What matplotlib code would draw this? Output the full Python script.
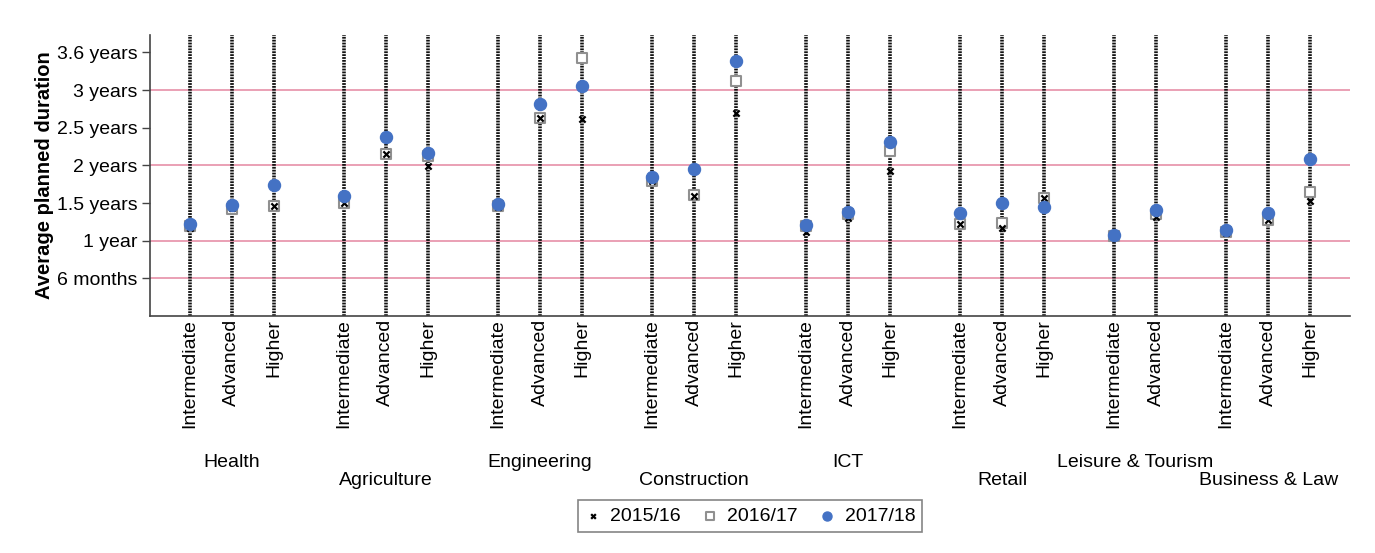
import matplotlib.pyplot as plt
from matplotlib.transforms import blended_transform_factory

plt.rcParams['font.family'] = ['Liberation Sans', 'DejaVu Sans']

groups = ["Health", "Agriculture", "Engineering", "Construction",
          "ICT", "Retail", "Leisure & Tourism", "Business & Law"]
levels = [
    ["Intermediate", "Advanced", "Higher"],
    ["Intermediate", "Advanced", "Higher"],
    ["Intermediate", "Advanced", "Higher"],
    ["Intermediate", "Advanced", "Higher"],
    ["Intermediate", "Advanced", "Higher"],
    ["Intermediate", "Advanced", "Higher"],
    ["Intermediate", "Advanced"],
    ["Intermediate", "Advanced", "Higher"],
]

# average planned duration in years, one value per level, in order
y2015 = [1.17, 1.43, 1.46, 1.50, 2.15, 1.99, 1.45, 2.63, 2.62, 1.79, 1.59, 2.70,
         1.12, 1.30, 1.92, 1.22, 1.17, 1.565, 1.06, 1.31, 1.10, 1.27, 1.53]
y2016 = [1.19, 1.42, 1.46, 1.50, 2.15, 2.13, 1.46, 2.63, 3.42, 1.79, 1.61, 3.12,
         1.19, 1.36, 2.19, 1.225, 1.23, 1.57, 1.06, 1.35, 1.11, 1.28, 1.64]
y2017 = [1.225, 1.477, 1.742, 1.596, 2.38, 2.16, 1.486, 2.81, 3.06, 1.85, 1.945, 3.39,
         1.21, 1.375, 2.31, 1.367, 1.50, 1.45, 1.07, 1.41, 1.136, 1.367, 2.086]

ytick_vals = [0.5, 1, 1.5, 2, 2.5, 3, 3.5]
ytick_labels = ["6 months", "1 year", "1.5 years", "2 years", "2.5 years", "3 years", "3.6 years"]
grid_vals = [0.5, 1, 2, 3]

# x positions: one unit per level, extra gap between groups
gap = 2 / 3
xpos, xlabels, centers = [], [], []
k = 0
for g, lv in enumerate(levels):
    start = len(xpos)
    for name in lv:
        xpos.append(k + gap * g)
        xlabels.append(name)
        k += 1
    centers.append(sum(xpos[start:]) / len(lv))

fig = plt.figure(figsize=(13.75, 5.53), dpi=100)
ax = fig.add_axes([0.109, 0.4286, 0.873, 0.508])

for v in grid_vals:
    ax.axhline(v, color="#e690a8", lw=1.2, zorder=1)

for x in xpos:
    ax.axvline(x, color="#111111", lw=2.6, linestyle=(0, (0.5, 0.3)), zorder=2)

ax.scatter(xpos, y2015, marker="x", s=20, color="black", linewidths=1.6,
           zorder=4, label="2015/16")
ax.scatter(xpos, y2016, marker="s", s=55, facecolor="white", edgecolor="#909090",
           linewidths=1.5, zorder=3, label="2016/17")
ax.scatter(xpos, y2017, marker="o", s=75, color="#4472c4", zorder=5, label="2017/18")

ax.set_xlim(-0.952, 27.62)
ax.set_ylim(0, 3.73)

ax.set_xticks(xpos)
ax.set_xticklabels(xlabels, rotation=90, fontsize=14)
ax.tick_params(axis="x", length=0, pad=2)
ax.set_yticks(ytick_vals)
ax.set_yticklabels(ytick_labels, fontsize=14)
ax.tick_params(axis="y", length=6, width=1, color="#444444", pad=3)
ax.set_ylabel("Average planned duration", fontsize=14.5, fontweight="bold", labelpad=2)

for side in ["top", "right"]:
    ax.spines[side].set_visible(False)
for side in ["left", "bottom"]:
    ax.spines[side].set_color("#444444")
    ax.spines[side].set_linewidth(1.2)

trans = blended_transform_factory(ax.transData, ax.transAxes)
for i, (name, c) in enumerate(zip(groups, centers)):
    yy = -0.52 if i % 2 == 0 else -0.587
    ax.text(c, yy, name, transform=trans, ha="center", va="center", fontsize=14)

leg = ax.legend(loc="center", bbox_to_anchor=(0.5, -0.712), ncol=3, fontsize=14,
                frameon=True, fancybox=False, edgecolor="#666666",
                handlelength=0.8, handletextpad=0.5, columnspacing=1.1,
                borderpad=0.35, borderaxespad=0, markerscale=0.75)
leg.get_frame().set_linewidth(1.2)

fig.savefig("out.png", dpi=100, facecolor="white")
plt.close()
